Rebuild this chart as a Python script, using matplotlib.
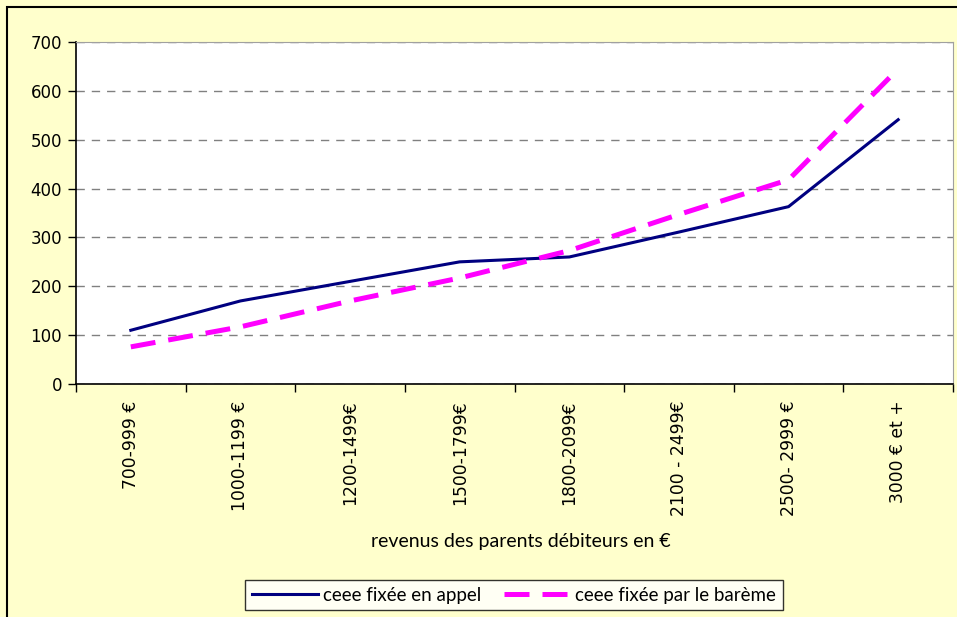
import numpy as np
import matplotlib.pyplot as plt
from matplotlib.ticker import FixedLocator, NullFormatter

plt.rcParams['font.family'] = ['DejaVu Sans']

#------------data--------------------
categories = ['700-999 €', '1000-1199 €', '1200-1499€', '1500-1799€',
              '1800-2099€', '2100 - 2499€', '2500- 2999 €', '3000 € et +']
ceee_appel  = [110, 170, 210, 250, 260, 311, 363, 541]
ceee_bareme = [76, 117, 170, 217, 273, 347, 418, 645]

#------------figure------------------
fig = plt.figure(figsize=(9.57, 6.17), dpi=100, facecolor='#FFFFCC')
fig.patches.append(plt.Rectangle((7/957, -0.01), 1.0, 1 - 7/617 + 0.01,
                                 transform=fig.transFigure, fill=False,
                                 edgecolor='black', linewidth=1.5))

ax = fig.add_axes([76/957, 1 - 384/617, (953 - 76)/957, (384 - 42)/617])
ax.set_facecolor('white')

x = np.arange(len(categories))
ax.plot(x, ceee_appel, color='#000080', linewidth=2.2,
        label='ceee fixée en appel')
ax.plot(x, ceee_bareme, color='#FF00FF', linewidth=3.6,
        dashes=(5, 2.6), label='ceee fixée par le barème')

ax.set_xlim(-0.5, len(categories) - 0.5)
ax.set_ylim(0, 700)
ax.set_yticks(range(0, 701, 100))
ax.tick_params(axis='y', labelsize=12, direction='out', length=6, width=1,
               pad=4)

ax.set_xticks(x)
ax.set_xticklabels(categories, rotation=90, fontsize=12.3)
ax.tick_params(axis='x', which='major', length=0, pad=12)
ax.xaxis.set_minor_locator(FixedLocator(np.arange(-0.5, len(categories), 1)))
ax.xaxis.set_minor_formatter(NullFormatter())
ax.tick_params(axis='x', which='minor', direction='out', length=6, width=1)

ax.grid(axis='y', color='#808080', linestyle=(0, (6, 5)), linewidth=1)
ax.set_axisbelow(True)

for s in ['top', 'right']:
    ax.spines[s].set_color('#A0A0A0')
for s in ['left', 'bottom']:
    ax.spines[s].set_color('black')
    ax.spines[s].set_linewidth(1.2)

fig.text(521/957, 1 - 541/617, 'revenus des parents débiteurs en €',
         ha='center', va='center', fontsize=14, family='Lato')

leg = fig.legend(loc='center', bbox_to_anchor=(514/957, 1 - 595/617),
                 ncol=2, frameon=True, fancybox=False,
                 prop={'family': 'Lato', 'size': 13.5},
                 handlelength=3.5, columnspacing=1.2, handletextpad=0.3,
                 borderpad=0.35)
leg.get_frame().set_edgecolor('black')
leg.get_frame().set_linewidth(1)

plt.savefig('out.png', dpi=100, facecolor=fig.get_facecolor())
